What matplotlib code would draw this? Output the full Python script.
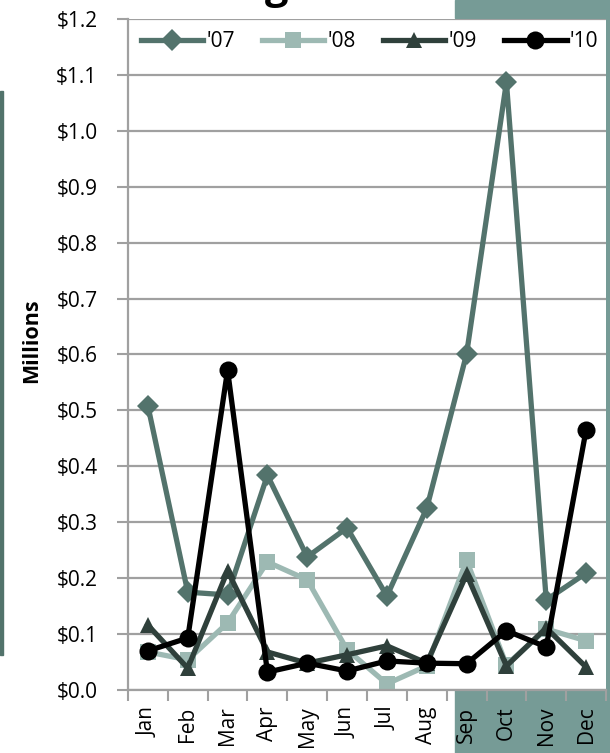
import matplotlib
matplotlib.use("Agg")
import matplotlib.pyplot as plt
from matplotlib.patches import Rectangle
from matplotlib.ticker import FuncFormatter, MultipleLocator

plt.rcParams['font.family'] = ['Open Sans', 'DejaVu Sans']

months = ['Jan', 'Feb', 'Mar', 'Apr', 'May', 'Jun',
          'Jul', 'Aug', 'Sep', 'Oct', 'Nov', 'Dec']
y07 = [0.508, 0.175, 0.170, 0.384, 0.238, 0.290, 0.168, 0.325, 0.601, 1.087, 0.161, 0.209]
y08 = [0.068, 0.054, 0.120, 0.229, 0.197, 0.072, 0.011, 0.043, 0.232, 0.045, 0.109, 0.088]
y09 = [0.116, 0.039, 0.213, 0.068, 0.048, 0.063, 0.079, 0.048, 0.207, 0.043, 0.111, 0.041]
y10 = [0.070, 0.093, 0.572, 0.032, 0.048, 0.034, 0.052, 0.048, 0.047, 0.106, 0.077, 0.465]
series_names = ["'07", "'08", "'09", "'10"]

W, H = 610, 753
fig = plt.figure(figsize=(W / 100, H / 100), dpi=100)
fig.patch.set_facecolor('white')

teal = '#769b96'
# slide decorations behind the chart
fig.patches.append(Rectangle((455 / W, 1 - 18 / H), 155 / W, 18 / H,
                             transform=fig.transFigure, color=teal, zorder=0))
fig.patches.append(Rectangle((455 / W, 0), 155 / W, 63 / H,
                             transform=fig.transFigure, color=teal, zorder=0))
fig.patches.append(Rectangle((606 / W, 0), 4 / W, 1,
                             transform=fig.transFigure, color=teal, zorder=0))
fig.patches.append(Rectangle((0, 1 - 655 / H), 3 / W, (655 - 91) / H,
                             transform=fig.transFigure, color='#52736b', zorder=0))
# slide title running off the top edge
fig.text(277 / W, 1 + 2 / H, 'g', fontsize=30, fontweight='bold',
         ha='center', va='baseline', color='black')

ax = fig.add_axes([128 / W, 1 - 690 / H, (606 - 128) / W, (690 - 19) / H])
ax.set_facecolor('white')
ax.set_zorder(1)

x = list(range(len(months)))
styles = [
    (y07, '#53736c', 'D', 11),
    (y08, '#9db9b3', 's', 11),
    (y09, '#2f403b', '^', 12),
    (y10, '#000000', 'o', 13),
]
for (vals, col, mk, ms), name in zip(styles, series_names):
    ax.plot(x, vals, color=col, lw=3.8, marker=mk, markersize=ms,
            markeredgewidth=0, label=name, solid_joinstyle='miter')

ax.set_xlim(-0.5, 11.5)
ax.set_ylim(0, 1.2)
ax.yaxis.set_major_locator(MultipleLocator(0.1))
ax.yaxis.set_major_formatter(FuncFormatter(lambda v, p: f'${v:.1f}'))
ax.grid(axis='y', color='#a0a0a0', lw=1.6)
ax.set_axisbelow(True)

ax.set_xticks(x)
ax.set_xticklabels(months, rotation=90, fontsize=15)
ax.set_xticks([i + 0.5 for i in range(-1, 12)], minor=True)
ax.tick_params(axis='x', which='major', length=0, pad=12)
ax.tick_params(axis='x', which='minor', length=8, width=1.5, color='#a0a0a0', direction='out')
ax.tick_params(axis='y', length=8, width=1.5, color='#a0a0a0', labelsize=15, pad=14)

for s in ['top', 'right']:
    ax.spines[s].set_visible(False)
ax.spines['left'].set_color('#a0a0a0')
ax.spines['left'].set_linewidth(1.6)
ax.spines['bottom'].set_color('#a0a0a0')
ax.spines['bottom'].set_linewidth(1.6)

ax.set_ylabel('Millions', fontsize=15.5, fontweight='bold')
ax.yaxis.set_label_coords(-0.18, 0.52)

leg = ax.legend(loc='upper center', ncol=4, frameon=False, fontsize=15,
                handlelength=3.0, columnspacing=1.3, handletextpad=0.15,
                bbox_to_anchor=(0.505, 1.01))

fig.savefig('out.png', dpi=100, facecolor=fig.get_facecolor())
